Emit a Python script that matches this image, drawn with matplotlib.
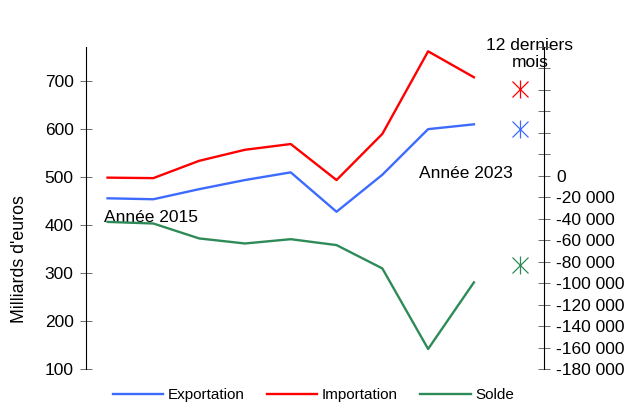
import matplotlib
matplotlib.use('Agg')
import matplotlib.pyplot as plt
from matplotlib.ticker import FuncFormatter, MultipleLocator
import numpy as np

plt.rcParams.update({
    'font.family': ['Liberation Sans', 'DejaVu Sans'],
    'font.size': 12.5,
})

# ── Data (milliards d'euros ; solde en millions) ─────────────
years = [2015, 2016, 2017, 2018, 2019, 2020, 2021, 2022, 2023]
exportation = [456, 454, 475, 494, 510, 428, 505, 600, 610]
importation = [499, 498, 534, 557, 569, 494, 590, 762, 708]
solde = [-42800, -44300, -58200, -62900, -58900, -64400, -86100, -161100, -99100]

# 12 derniers mois
last12_export = 600
last12_import = 683
last12_solde = -83100

C_EXP = '#3D6BFF'
C_IMP = '#FF0000'
C_SOL = '#2E8B57'

fig = plt.figure(figsize=(6.27, 4.08), dpi=100)
ax = fig.add_axes([0.1372, 0.0949, 0.7304, 0.7899])
ax2 = ax.twinx()

x = np.arange(len(years))
x_last = len(years)

l1, = ax.plot(x, exportation, color=C_EXP, lw=1.7, label='Exportation')
l2, = ax.plot(x, importation, color=C_IMP, lw=1.7, label='Importation')
l3, = ax2.plot(x, solde, color=C_SOL, lw=1.7, label='Solde')

# asterisk markers (vertical bar + cross)
for axis, val, col in [(ax, last12_import, C_IMP), (ax, last12_export, C_EXP),
                       (ax2, last12_solde, C_SOL)]:
    axis.plot([x_last], [val], marker='|', ms=13, mew=0.9, color=col, ls='none')
    axis.plot([x_last], [val], marker='x', ms=11, mew=0.9, color=col, ls='none')

ax.set_xlim(-0.47, 9.53)
ax.set_ylim(100, 771)
ax2.set_ylim(-180000, 120000)

ax.yaxis.set_major_locator(MultipleLocator(100))
ax2.yaxis.set_major_locator(MultipleLocator(20000))


def fmt_solde(v, pos):
    if v > 0:
        return ''
    return f'{int(round(v)):,}'.replace(',', ' ')


ax2.yaxis.set_major_formatter(FuncFormatter(fmt_solde))

for a in (ax, ax2):
    for side in ('top', 'bottom'):
        a.spines[side].set_visible(False)
    a.tick_params(axis='y', direction='inout', length=8, width=0.6,
                  color='#555555', pad=5, labelsize=12.5)
ax.spines['right'].set_visible(False)
ax2.spines['left'].set_visible(False)
ax.set_xticks([])

ax.set_ylabel("Milliards d'euros", fontsize=12.8)
ax.yaxis.set_label_coords(-0.126, 0.342)

ax.text(-0.08, 400, 'Année 2015', ha='left', va='bottom')
ax.text(7.82, 507, 'Année 2023', ha='center', va='center')
ax.text(9.22, 757, '12 derniers\nmois', ha='center', va='center',
        linespacing=1.15)

fig.legend(handles=[l1, l2, l3], loc='center', bbox_to_anchor=(0.5, 0.032),
           ncol=3, frameon=False, fontsize=11, handlelength=3.3,
           handletextpad=0.3, columnspacing=1.45)

plt.savefig('out.png', dpi=100, facecolor='white')
plt.close()
